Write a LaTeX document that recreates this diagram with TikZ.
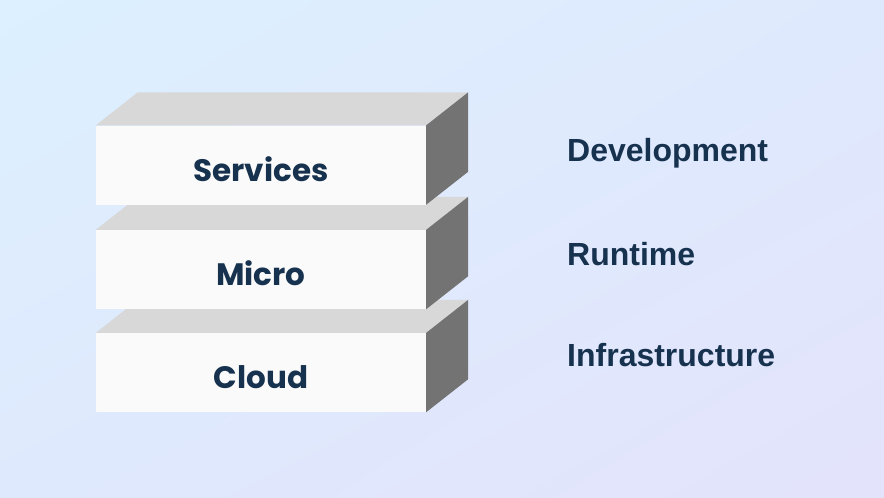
\documentclass[tikz,border=0pt]{standalone}
\usepackage{fontspec}
\setmainfont{Liberation Sans}
\newfontfamily\blockfont{Poppins}
\usetikzlibrary{calc,positioning,shadings}
\definecolor{bgtl}{HTML}{DCF0FF}
\definecolor{bgbr}{HTML}{E3E3FB}
\definecolor{bgmid}{HTML}{DFE9FD}
\definecolor{frontc}{HTML}{FAFAFA}
\definecolor{topc}{HTML}{D8D8D8}
\definecolor{sidec}{HTML}{737373}
\definecolor{navy}{HTML}{16324F}

\begin{document}
\begin{tikzpicture}[x=1pt, y=-1pt,
  front/.style={fill=frontc, minimum width=330pt, minimum height=79pt, inner sep=0pt,
    text height=32pt, text depth=0pt,
    text=navy, font=\blockfont\bfseries\fontsize{31}{31}\selectfont},
  lbl/.style={anchor=base west, inner sep=0pt, text=navy, font=\bfseries\fontsize{32}{32}\selectfont}]
\shade[upper left=bgtl, lower right=bgbr, upper right=bgmid, lower left=bgmid] (0,0) rectangle (884,498);
\useasboundingbox (0,0) rectangle (884,498);

% blocks, bottom first
\foreach \name/\txt/\y in {cloud/Cloud/372.5, micro/Micro/269.5, serv/Services/165} {
  \node[front] (\name) at (261,\y) {\txt};
  \fill[topc] (\name.north west) -- ++(42,-33) -- ($(\name.north east)+(42,-33)$) -- (\name.north east) -- cycle;
  \fill[sidec] (\name.north east) -- ++(42,-33) -- ($(\name.south east)+(42,-33)$) -- (\name.south east) -- cycle;
}

\node[lbl] (dev) at (567,161) {Development};
\node[lbl] (run) at (567,265) {Runtime};
\node[lbl] (infra) at (567,366) {Infrastructure};
\end{tikzpicture}
\end{document}
